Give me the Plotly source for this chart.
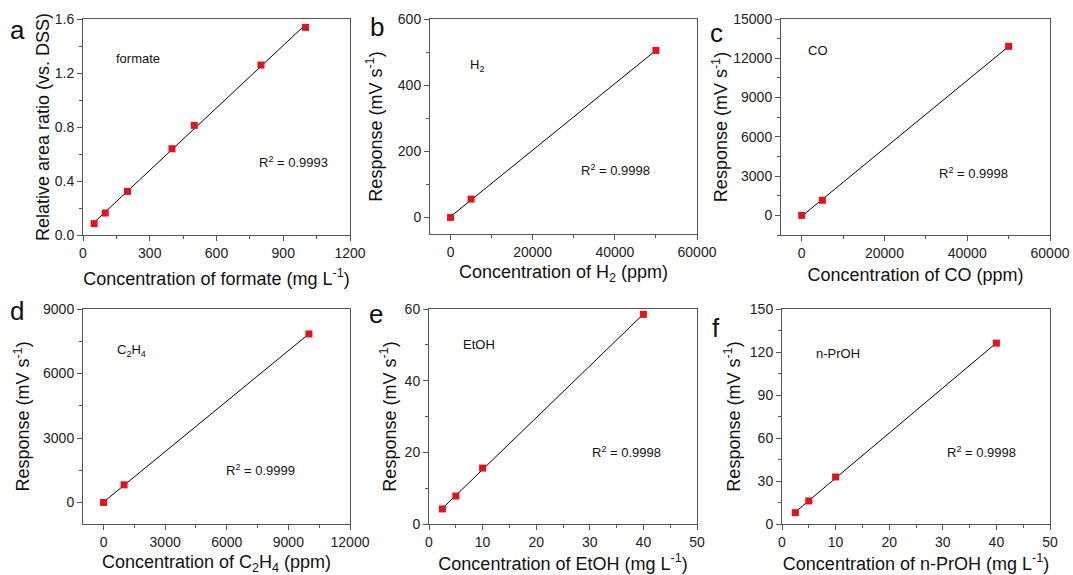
import numpy as np
import plotly.graph_objects as go

# ---- data ----
formate_x = [50, 100, 200, 400, 500, 800, 1000]
formate_y = [0.084, 0.163, 0.323, 0.639, 0.812, 1.259, 1.538]
h2_x = [0, 5000, 50000]
h2_y = [0, 55.5, 505]
co_x = [0, 5000, 50000]
co_y = [0, 1150, 12910]
c2h4_x = [0, 1000, 10000]
c2h4_y = [0, 823, 7840]
etoh_x = [2.5, 5, 10, 40]
etoh_y = [4.2, 7.8, 15.6, 58.5]
nproh_x = [2.5, 5, 10, 40]
nproh_y = [7.9, 16.1, 32.8, 126.2]

letters = ["a", "b", "c", "d", "e", "f"]
species = ["formate", "H<sub>2</sub>", "CO", "C<sub>2</sub>H<sub>4</sub>", "EtOH", "n-PrOH"]
r2_labels = ["R<sup>2</sup> = 0.9993", "R<sup>2</sup> = 0.9998", "R<sup>2</sup> = 0.9998",
             "R<sup>2</sup> = 0.9999", "R<sup>2</sup> = 0.9998", "R<sup>2</sup> = 0.9998"]
x_titles = ["Concentration of formate (mg L<sup>-1</sup>)",
            "Concentration of H<sub>2</sub> (ppm)",
            "Concentration of CO (ppm)",
            "Concentration of C<sub>2</sub>H<sub>4</sub> (ppm)",
            "Concentration of EtOH (mg L<sup>-1</sup>)",
            "Concentration of n-PrOH (mg L<sup>-1</sup>)"]
y_titles = ["Relative area ratio (vs. DSS)"] + ["Response (mV s<sup>-1</sup>)"] * 5

xs = [formate_x, h2_x, co_x, c2h4_x, etoh_x, nproh_x]
ys = [formate_y, h2_y, co_y, c2h4_y, etoh_y, nproh_y]

# ---- layout settings ----
W, H = 1073, 575
boxes = [(83, 350, 19, 235), (430, 697, 19, 234), (781, 1050, 19, 235),
         (83, 350, 309, 524), (429, 697, 309, 524), (782, 1050, 309, 524)]
xranges = [(0, 1200), (-5000, 60000), (-5000, 60000), (-1000, 12000), (0, 50), (0, 50)]
yranges = [(0, 1.6), (-50, 600), (-1500, 15000), (-1000, 9000), (0, 60), (0, 150)]
xdt = [300, 20000, 20000, 3000, 10, 10]
ydt = [0.4, 200, 3000, 3000, 20, 30]
yfmt = [".1f", "d", "d", "d", "d", "d"]
ystand = [0, 10, 0, 8, 3, 4]
xstand = [12, 6, 8, 8, 8, 8]
species_pos = [(0.206, 0.815), (0.175, 0.786), (0.139, 0.853), (0.182, 0.809), (0.187, 0.836), (0.21, 0.794)]
r2_pos = [(0.787, 0.338), (0.693, 0.298), (0.715, 0.286), (0.663, 0.251), (0.738, 0.333), (0.745, 0.333)]
letter_pos = [(17, 30), (377, 27), (716, 33), (17, 311), (376, 314), (716, 328)]

FONT = "Arial, Liberation Sans, sans-serif"
RED = "#e8111b"
AXC = "#555555"

fig = go.Figure()
annotations = []
layout = {}
for i in range(6):
    k = "" if i == 0 else str(i + 1)
    xa, ya = "x" + k, "y" + k
    x = np.array(xs[i], dtype=float)
    y = np.array(ys[i], dtype=float)
    m, b = np.polyfit(x, y, 1)
    xl = np.array([x.min(), x.max()])
    fig.add_trace(go.Scatter(x=xl, y=m * xl + b, mode="lines",
                             line=dict(color="black", width=1),
                             xaxis=xa, yaxis=ya, showlegend=False, hoverinfo="skip"))
    fig.add_trace(go.Scatter(x=x, y=y, mode="markers",
                             marker=dict(symbol="square", size=7, color=RED),
                             xaxis=xa, yaxis=ya, showlegend=False))
    l, r, t, btm = boxes[i]
    common = dict(showline=True, mirror=True, linecolor=AXC, linewidth=1,
                  ticks="outside", ticklen=5, tickcolor=AXC, showgrid=False,
                  zeroline=False, tickfont=dict(family=FONT, size=14, color="#222"),
                  automargin=False)
    layout["xaxis" + k] = dict(
        domain=[l / W, r / W], range=list(xranges[i]), anchor=ya,
        tick0=0, dtick=xdt[i], tickformat="d",
        minor=dict(ticks="outside", ticklen=3, tickcolor=AXC, dtick=xdt[i] / 2, tick0=0),
        title=dict(text=x_titles[i], font=dict(family=FONT, size=18, color="#111"), standoff=xstand[i]),
        **common)
    layout["yaxis" + k] = dict(
        domain=[1 - btm / H, 1 - t / H], range=list(yranges[i]), anchor=xa,
        tick0=0, dtick=ydt[i], tickformat=yfmt[i],
        minor=dict(ticks="outside", ticklen=3, tickcolor=AXC, dtick=ydt[i] / 2, tick0=0),
        title=dict(text=y_titles[i], font=dict(family=FONT, size=18, color="#111"), standoff=ystand[i]),
        **common)
    annotations.append(dict(text=species[i], x=species_pos[i][0], y=species_pos[i][1],
                            xref=xa + " domain", yref=ya + " domain", showarrow=False,
                            xanchor="center", yanchor="middle",
                            font=dict(family=FONT, size=13, color="#111")))
    annotations.append(dict(text=r2_labels[i], x=r2_pos[i][0], y=r2_pos[i][1],
                            xref=xa + " domain", yref=ya + " domain", showarrow=False,
                            xanchor="center", yanchor="middle",
                            font=dict(family=FONT, size=13, color="#111")))
    annotations.append(dict(text=letters[i], x=letter_pos[i][0] / W, y=1 - letter_pos[i][1] / H,
                            xref="paper", yref="paper", showarrow=False,
                            xanchor="center", yanchor="middle",
                            font=dict(family=FONT, size=26, color="#111")))

fig.update_layout(width=W, height=H, margin=dict(l=0, r=0, t=0, b=0),
                  paper_bgcolor="white", plot_bgcolor="white",
                  annotations=annotations, **layout)
fig.write_html("out.html")
